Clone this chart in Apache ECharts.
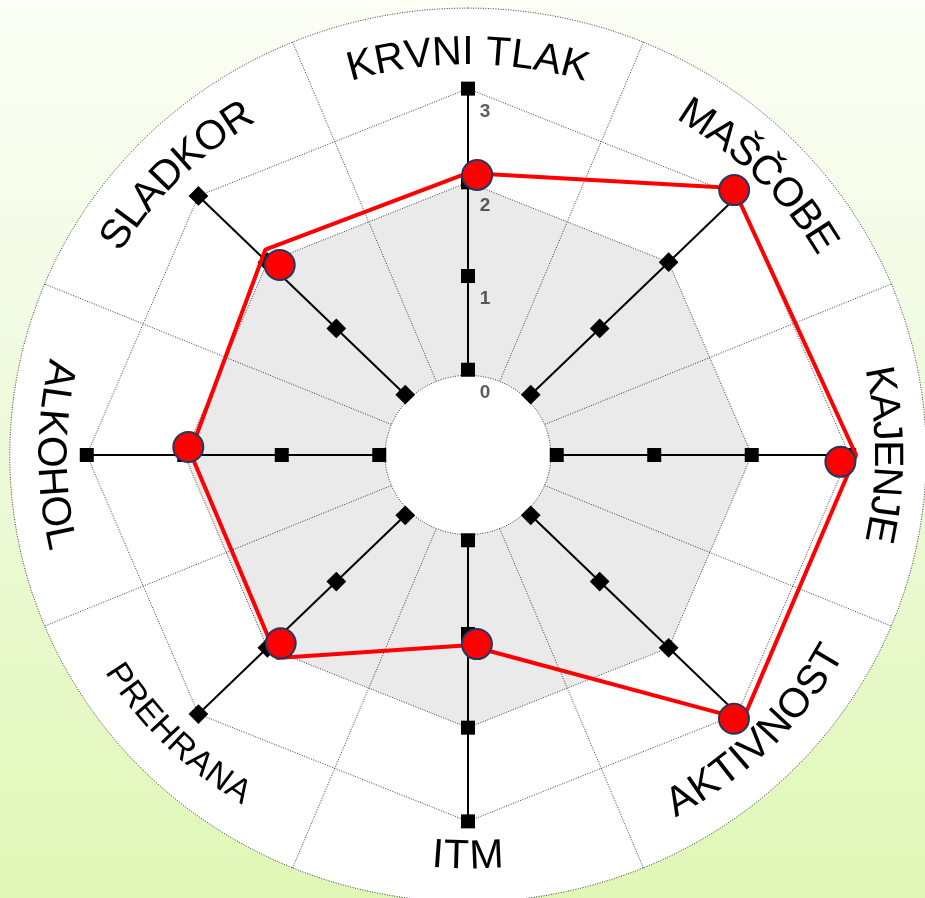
<!DOCTYPE html>
<html>
<head>
    <meta charset="utf-8">
    <title>Dejavniki tveganja</title>
    <script src="https://cdn.jsdelivr.net/npm/echarts@6/dist/echarts.min.js"></script>
    <style>
        html, body { margin: 0; padding: 0; }
        body { background: linear-gradient(to bottom, #fbfff5 0%, #f2fbe4 35%, #e0f7b6 100%); }
    </style>
</head>
<body>
    <div id="main" style="width: 925px;height:898px;"></div>
    <script type="text/javascript">
        // categories clockwise from the top
        var categories = ['KRVNI TLAK', 'MAŠČOBE', 'KAJENJE', 'AKTIVNOST', 'ITM', 'PREHRANA', 'ALKOHOL', 'SLADKOR'];
        var tickValues = [0, 1, 2, 3];
        var shadedLevel = 2;
        var gridLevels = [2, 3];

        // red outline (value, small angle shift in degrees)
        var lineValues = [2.10, 3.03, 3.07, 3.08, 1.12, 2.01, 1.94, 2.11];
        var lineShift = [0, -1.3, 0, 0, 0, -2.9, 0.6, 1.5];
        // red dots
        var dotValues = [2.08, 3.02, 2.91, 3.01, 1.11, 1.87, 1.96, 1.89];
        var dotShift = [1.8, -1.0, 1.1, 0.9, -2.6, -1.3, 1.7, 1.4];

        // layout
        var CX = 468, CY = 455, SX = 97.5, SY = 93.7;
        var OFFSET = 0.91;      // value 0 sits this far from the centre
        var HOLE = 0.85;
        var RING_X = 4.70, RING_Y = 4.77;
        var LABEL_R = 4.29;
        var W = 925, H = 898;

        function polar(rho, deg) {
            var a = deg * Math.PI / 180;
            return [rho * Math.sin(a), rho * Math.cos(a)];
        }
        function angleOf(i) { return i * 360 / categories.length; }

        var dotted = { stroke: '#3a3a3a', lineWidth: 1, lineDash: [1, 1.5] };

        function renderFrame(params, api) {
            var children = [];
            var ring = [];
            for (var d = 0; d < 360; d += 2) {
                var a = d * Math.PI / 180;
                ring.push(api.coord([RING_X * Math.sin(a), RING_Y * Math.cos(a)]));
            }
            children.push({ type: 'polygon', shape: { points: ring },
                style: Object.assign({ fill: '#fff' }, dotted) });

            var shade = categories.map(function (c, i) { return api.coord(polar(OFFSET + shadedLevel, angleOf(i))); });
            children.push({ type: 'polygon', shape: { points: shade }, style: { fill: '#eaeaea' } });

            gridLevels.forEach(function (lv) {
                var pts = categories.map(function (c, i) { return api.coord(polar(OFFSET + lv, angleOf(i))); });
                children.push({ type: 'polygon', shape: { points: pts }, style: Object.assign({ fill: null }, dotted) });
            });

            categories.forEach(function (c, i) {
                var deg = angleOf(i) + 180 / categories.length;
                var a = deg * Math.PI / 180;
                var p0 = api.coord(polar(HOLE, deg));
                var p1 = api.coord([RING_X * Math.sin(a), RING_Y * Math.cos(a)]);
                children.push({ type: 'line', shape: { x1: p0[0], y1: p0[1], x2: p1[0], y2: p1[1] }, style: dotted });
            });

            var hole = [];
            for (var d2 = 0; d2 < 360; d2 += 3) hole.push(api.coord(polar(HOLE, d2)));
            children.push({ type: 'polygon', shape: { points: hole }, style: Object.assign({ fill: '#fff' }, dotted) });

            return { type: 'group', children: children };
        }

        function renderAxis(params, api) {
            var i = api.value(2);
            var p0 = api.coord(polar(OFFSET + tickValues[0], angleOf(i)));
            var p1 = api.coord(polar(OFFSET + tickValues[tickValues.length - 1], angleOf(i)));
            return { type: 'line', shape: { x1: p0[0], y1: p0[1], x2: p1[0], y2: p1[1] },
                style: { stroke: '#000', lineWidth: 2 } };
        }

        var measureCtx = document.createElement('canvas').getContext('2d');
        function labelFont(name) {
            return (name === 'PREHRANA' ? 34 : 41) + 'px "Liberation Sans", Arial, sans-serif';
        }

        function renderLabel(params, api) {
            var i = api.value(2);
            var name = categories[i];
            var font = labelFont(name);
            measureCtx.font = font;
            var chars = name.split('');
            var widths = chars.map(function (ch) { return measureCtx.measureText(ch).width; });
            var total = widths.reduce(function (s, w) { return s + w; }, 0);
            var rPx = LABEL_R * (SX + SY) / 2;
            var theta = angleOf(i) * Math.PI / 180;
            var top = (angleOf(i) > 270 || angleOf(i) <= 90);
            var children = [];
            var acc = 0;
            chars.forEach(function (ch, k) {
                var off = (acc + widths[k] / 2 - total / 2) / rPx;
                acc += widths[k];
                var phi = top ? theta + off : theta - off;
                var p = api.coord(polar(LABEL_R, phi * 180 / Math.PI));
                children.push({
                    type: 'text', x: p[0], y: p[1],
                    rotation: top ? -phi : Math.PI - phi,
                    style: { text: ch, font: font, fill: '#000', align: 'center', verticalAlign: 'middle' }
                });
            });
            return { type: 'group', children: children };
        }

        var markerData = [];
        categories.forEach(function (c, i) {
            tickValues.forEach(function (t) {
                markerData.push({ value: polar(OFFSET + t, angleOf(i)), symbolRotate: -angleOf(i) });
            });
        });

        var tickLabelData = tickValues.map(function (t) {
            return { value: polar(OFFSET + t, 0), name: String(t) };
        });

        var lineData = lineValues.map(function (v, i) { return polar(OFFSET + v, angleOf(i) + lineShift[i]); });
        lineData.push(lineData[0]);

        var dotData = dotValues.map(function (v, i) { return polar(OFFSET + v, angleOf(i) + dotShift[i]); });

        var catData = categories.map(function (c, i) { return [0, 0, i]; });

        var myChart = echarts.init(document.getElementById('main'));
        var option = {
            animation: false,
            grid: { left: 0, top: 0, width: W, height: H },
            xAxis: { type: 'value', min: -CX / SX, max: (W - CX) / SX, show: false },
            yAxis: { type: 'value', min: -(H - CY) / SY, max: CY / SY, show: false },
            series: [
                { type: 'custom', z: 1, data: [[0, 0]], renderItem: renderFrame, silent: true },
                { type: 'custom', z: 2, data: catData, renderItem: renderAxis, silent: true },
                {
                    type: 'scatter', z: 3, data: markerData, symbol: 'rect', symbolSize: 14,
                    itemStyle: { color: '#000', opacity: 1 }, silent: true
                },
                {
                    type: 'scatter', z: 3, data: tickLabelData, symbolSize: 0, silent: true,
                    label: {
                        show: true, position: 'inside', offset: [17, 23], formatter: '{b}',
                        color: '#333', fontSize: 19, fontWeight: 'bold', fontFamily: '"Liberation Sans", Arial, sans-serif'
                    }
                },
                {
                    type: 'line', z: 4, data: lineData, symbol: 'none', silent: true,
                    lineStyle: { color: '#ff0000', width: 4 }
                },
                {
                    type: 'scatter', z: 5, data: dotData, symbol: 'circle', symbolSize: 30, silent: true,
                    itemStyle: { color: '#ff0000', borderColor: '#1f3a60', borderWidth: 2, opacity: 1 }
                },
                { type: 'custom', z: 6, data: catData, renderItem: renderLabel, silent: true }
            ]
        };
        myChart.setOption(option);
    </script>
</body>
</html>
